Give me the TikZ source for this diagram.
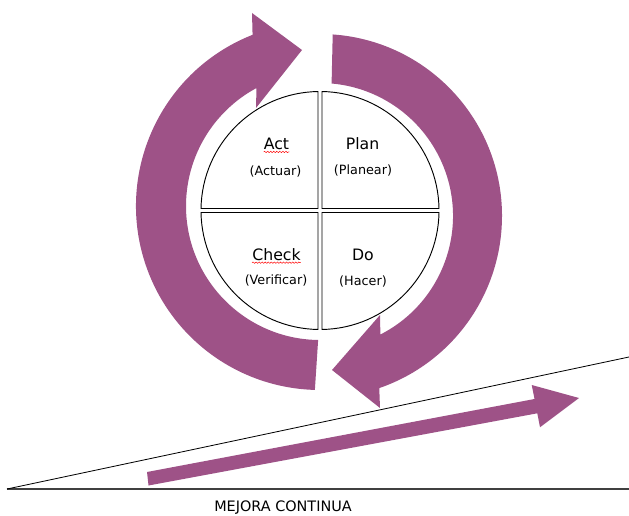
\documentclass[tikz,border=0pt]{standalone}
\usepackage{fontspec}
\setmainfont{DejaVu Sans}
\usetikzlibrary{decorations.pathmorphing}

\definecolor{pdcapurple}{RGB}{158,82,135}

\tikzset{
  quarter/.style={draw=black, line width=0.8pt, fill=white},
  loopfill/.style={fill=pdcapurple},
  stagename/.style={font=\fontsize{13.4}{15}\selectfont, inner sep=0pt},
  stagesub/.style={font=\fontsize{10.9}{13}\selectfont, inner sep=0pt},
  spellmark/.style={draw=red, line width=0.4pt, decorate,
    decoration={snake, amplitude=0.6pt, segment length=2.6pt}}
}

\begin{document}
\begin{tikzpicture}[x=0.03cm, y=-0.03cm]
    \useasboundingbox (0,0) rectangle (629,516);

    % the ramp
    \coordinate (O) at (7,489);
    \coordinate (E) at (629,489);
    \coordinate (S) at (629,357);
    \draw[line width=1.1pt, color=black!75] (O) -- (E);
    \draw[line width=0.7pt] (O) -- (S);

    % arrow going up the ramp
    \fill[loopfill] (147,472) -- (534.5,399) -- (531.7,385) -- (579,398)
        -- (540,427.3) -- (537.3,413.3) -- (148.5,485.5) -- cycle;

    % left arrow, from the bottom up to the top
    \begin{scope}[shift={(320,206)}]
        \fill[loopfill] (248.5:184) arc[start angle=248.5, end angle=91.6, radius=184]
            -- (90.8:134) arc[start angle=90.8, end angle=241.7, radius=134]
            -- (-64,-98) -- (-18,-156) -- (-68,-193) -- cycle;
    \end{scope}

    % right arrow, from the top down to the bottom
    \begin{scope}[shift={(320,216)}]
        \fill[loopfill] (274:182) arc[start angle=274, end angle=431, radius=182]
            -- (60,192) -- (12,154) -- (60,99)
            -- (63:133) arc[start angle=63, end angle=-85, radius=133] -- cycle;
    \end{scope}

    % the four quarters
    \begin{scope}[shift={(320,210.5)}]
        \draw[quarter] (-2,-2) -- (269.04:119) arc[start angle=269.04, end angle=180.96, radius=119] -- cycle;
        \draw[quarter] (2,-2) -- (270.96:119) arc[start angle=270.96, end angle=359.04, radius=119] -- cycle;
        \draw[quarter] (2,2) -- (0.96:119) arc[start angle=0.96, end angle=89.04, radius=119] -- cycle;
        \draw[quarter] (-2,2) -- (90.96:119) arc[start angle=90.96, end angle=179.04, radius=119] -- cycle;
    \end{scope}

    % labels
    \node[stagename] (act) at (276.5,144) {Act};
    \node[stagesub] (actuar) at (275.5,171) {(Actuar)};
    \node[stagename] (plan) at (362.5,143.5) {Plan};
    \node[stagesub] (planear) at (363,170.5) {(Planear)};
    \node[stagename] (check) at (276.5,254.5) {Check};
    \node[stagesub] (verificar) at (276,280) {(Verificar)};
    \node[stagename] (do) at (363,254.5) {Do};
    \node[stagesub] (hacer) at (363,281) {(Hacer)};

    \draw[spellmark] ([yshift=-1.6pt]act.south west) -- ([yshift=-1.6pt]act.south east);
    \draw[spellmark] ([yshift=-1.6pt]check.south west) -- ([yshift=-1.6pt]check.south east);

    \node[font=\fontsize{12.3}{14}\selectfont, inner sep=0pt] (mejora) at (283,507.5) {MEJORA CONTINUA};
\end{tikzpicture}
\end{document}
